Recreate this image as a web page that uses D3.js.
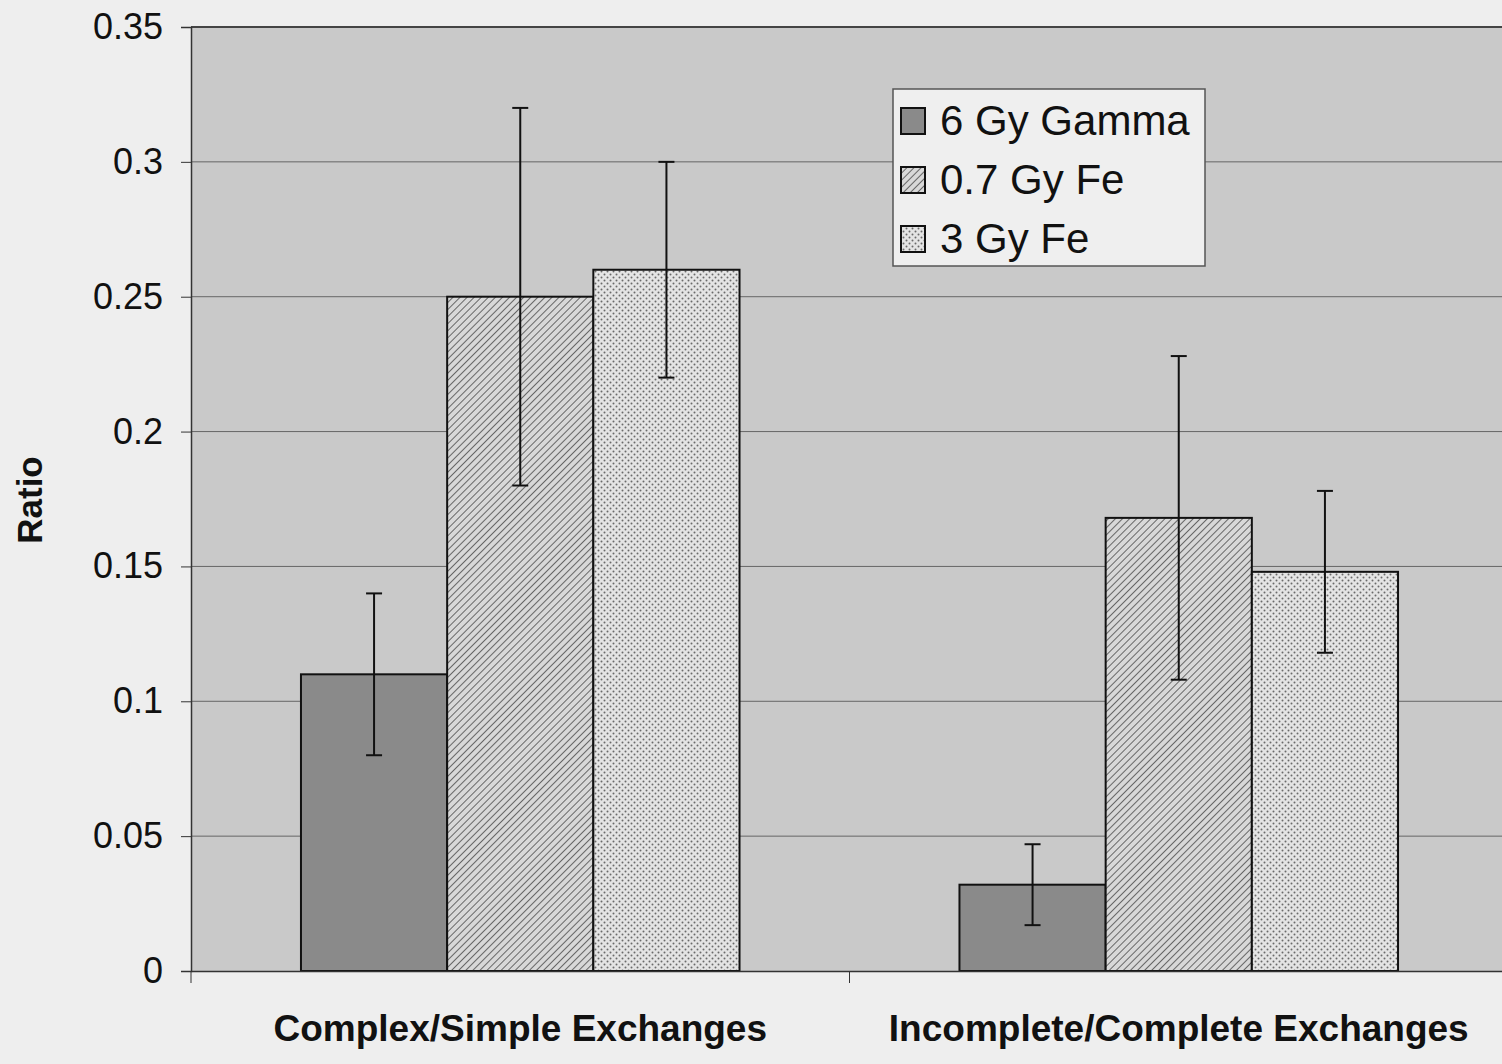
<!DOCTYPE html>
<html>
<head>
<meta charset="utf-8">
<script src="https://cdn.jsdelivr.net/npm/d3@7"></script>
<style>
  body { margin: 0; background: #eeeeee; }
  svg { display: block; }
</style>
</head>
<body>
<svg id="chart" width="1502" height="1064"></svg>
<script>
// DATA
const categories = ["Complex/Simple Exchanges", "Incomplete/Complete Exchanges"];
const series = ["6 Gy Gamma", "0.7 Gy Fe", "3 Gy Fe"];
const gamma6 = [0.11, 0.032];
const fe07 = [0.25, 0.168];
const fe3 = [0.26, 0.148];
const gamma6Err = [0.03, 0.015];
const fe07Err = [0.07, 0.06];
const fe3Err = [0.04, 0.03];
const yTicks = [0, 0.05, 0.1, 0.15, 0.2, 0.25, 0.3, 0.35];

const values = [gamma6, fe07, fe3];
const errors = [gamma6Err, fe07Err, fe3Err];

const svg = d3.select("#chart");
const plotLeft = 191, plotRight = 1508, plotTop = 27, plotBottom = 971;

// patterns
const defs = svg.append("defs");
const hatch = defs.append("pattern")
  .attr("id", "hatch")
  .attr("patternUnits", "userSpaceOnUse")
  .attr("width", 5).attr("height", 5)
  .attr("patternTransform", "rotate(45)");
hatch.append("rect").attr("width", 5).attr("height", 5).attr("fill", "#d8d8d8");
hatch.append("line").attr("x1", 0).attr("y1", 0).attr("x2", 0).attr("y2", 5)
  .attr("stroke", "#5a5a5a").attr("stroke-width", 1.8);

const dots = defs.append("pattern")
  .attr("id", "dots")
  .attr("patternUnits", "userSpaceOnUse")
  .attr("width", 6).attr("height", 6);
dots.append("rect").attr("width", 6).attr("height", 6).attr("fill", "#e4e4e4");
dots.append("circle").attr("cx", 1.5).attr("cy", 1.5).attr("r", 1).attr("fill", "#6a6a6a");
dots.append("circle").attr("cx", 4.5).attr("cy", 4.5).attr("r", 1).attr("fill", "#6a6a6a");

const fills = ["#8a8a8a", "url(#hatch)", "url(#dots)"];

// scales
const x0 = d3.scaleBand().domain(categories).range([plotLeft, plotRight]).paddingInner(0).paddingOuter(0);
const bw = x0.bandwidth() * 0.222;
const x1 = d3.scaleBand().domain(series).range([0, bw * 3]);
const y = d3.scaleLinear().domain([0, 0.35]).range([plotBottom, plotTop]);

// plot background
svg.append("rect")
  .attr("x", plotLeft).attr("y", plotTop)
  .attr("width", plotRight - plotLeft).attr("height", plotBottom - plotTop)
  .attr("fill", "#c9c9c9");

// gridlines
svg.selectAll(".grid").data(yTicks.slice(1)).join("line")
  .attr("x1", plotLeft).attr("x2", plotRight)
  .attr("y1", d => y(d)).attr("y2", d => y(d))
  .attr("stroke", d => d === 0.35 ? "#444" : "#666")
  .attr("stroke-width", d => d === 0.35 ? 2 : 1);

// bars
series.forEach((s, si) => {
  categories.forEach((c, ci) => {
    const gx = x0(c) + (x0.bandwidth() - bw * 3) / 2 + x1(s);
    svg.append("rect")
      .attr("x", gx).attr("y", y(values[si][ci]))
      .attr("width", x1.bandwidth()).attr("height", y(0) - y(values[si][ci]))
      .attr("fill", fills[si])
      .attr("stroke", "#111").attr("stroke-width", 2);
  });
});

// error bars
series.forEach((s, si) => {
  categories.forEach((c, ci) => {
    const cx = x0(c) + (x0.bandwidth() - bw * 3) / 2 + x1(s) + x1.bandwidth() / 2;
    const v = values[si][ci], e = errors[si][ci];
    const g = svg.append("g").attr("stroke", "#111").attr("stroke-width", 2);
    g.append("line").attr("x1", cx).attr("x2", cx).attr("y1", y(v + e)).attr("y2", y(v - e));
    g.append("line").attr("x1", cx - 8).attr("x2", cx + 8).attr("y1", y(v + e)).attr("y2", y(v + e));
    g.append("line").attr("x1", cx - 8).attr("x2", cx + 8).attr("y1", y(v - e)).attr("y2", y(v - e));
  });
});

// y axis
const yAxis = svg.append("g")
  .attr("transform", `translate(${plotLeft},0)`)
  .call(d3.axisLeft(y).tickValues(yTicks).tickSize(10).tickPadding(18)
    .tickFormat(d => d === 0 ? "0" : String(d)));
yAxis.select(".domain").attr("stroke", "#333").attr("stroke-width", 1.5);
yAxis.selectAll(".tick line").attr("stroke", "#333");
yAxis.selectAll("text")
  .attr("font-family", "Liberation Sans, Arial, sans-serif")
  .attr("font-size", 36).attr("fill", "#111");

// x axis
const xAxis = svg.append("g")
  .attr("transform", `translate(0,${plotBottom})`)
  .call(d3.axisBottom(x0).tickSize(0).tickPadding(44));
xAxis.select(".domain").attr("stroke", "#333").attr("stroke-width", 1.5);
xAxis.selectAll("text")
  .attr("font-family", "Liberation Sans, Arial, sans-serif")
  .attr("font-size", 37).attr("font-weight", "bold").attr("fill", "#111");
svg.append("line")
  .attr("x1", x0(categories[1])).attr("x2", x0(categories[1]))
  .attr("y1", plotBottom).attr("y2", plotBottom + 12)
  .attr("stroke", "#333");
svg.append("line")
  .attr("x1", plotLeft).attr("x2", plotLeft)
  .attr("y1", plotBottom).attr("y2", plotBottom + 12)
  .attr("stroke", "#333");

// y label
svg.append("text")
  .attr("transform", "translate(42,500) rotate(-90)")
  .attr("text-anchor", "middle")
  .attr("font-family", "Liberation Sans, Arial, sans-serif")
  .attr("font-size", 35).attr("font-weight", "bold").attr("fill", "#111")
  .text("Ratio");

// legend
const lg = svg.append("g").attr("transform", "translate(893,89)");
lg.append("rect").attr("width", 312).attr("height", 177)
  .attr("fill", "#efefef").attr("stroke", "#555").attr("stroke-width", 1.5);
series.forEach((s, i) => {
  const ly = 31 + i * 59;
  lg.append("rect").attr("x", 8).attr("y", ly - 12).attr("width", 24).attr("height", 26)
    .attr("fill", fills[i]).attr("stroke", "#111").attr("stroke-width", 2);
  lg.append("text").attr("x", 47).attr("y", ly + 15)
    .attr("font-family", "Liberation Sans, Arial, sans-serif")
    .attr("font-size", 42).attr("fill", "#111")
    .text(s);
});
</script>
</body>
</html>
